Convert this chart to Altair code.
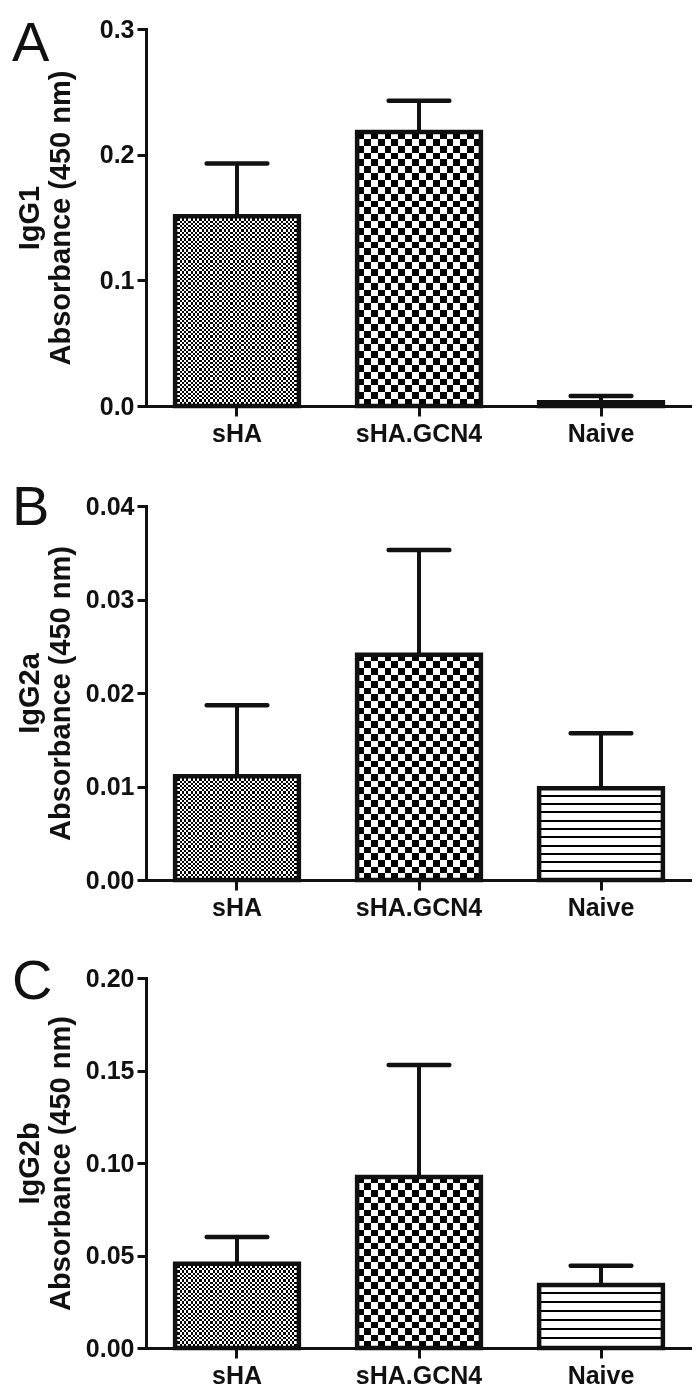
import altair as alt
import pandas as pd

groups = ["sHA", "sHA.GCN4", "Naive"]

igg1_mean = [0.151, 0.218, 0.003]
igg1_err = [0.042, 0.025, 0.005]

igg2a_mean = [0.0111, 0.0241, 0.0098]
igg2a_err = [0.0076, 0.0112, 0.0059]

igg2b_mean = [0.0455, 0.0925, 0.034]
igg2b_err = [0.0145, 0.0605, 0.0105]

FONT = "Liberation Sans"
INK = "#111111"
P_INNER, P_OUTER = 0.32, 0.16
AXIS_X = 134
W = 546


def stripes(n, vertical, white_frac=0.5):
    n = max(1, int(n))
    stops = []
    for i in range(n):
        a = i / n
        b = (i + white_frac) / n
        c = (i + 1) / n
        stops += [
            {"offset": round(a, 5), "color": "white"},
            {"offset": round(b, 5), "color": "white"},
            {"offset": round(b, 5), "color": "black"},
            {"offset": round(c, 5), "color": "black"},
        ]
    g = {"gradient": "linear", "stops": stops, "x1": 0, "y1": 0}
    if vertical:
        g.update({"x2": 0, "y2": 1})
    else:
        g.update({"x2": 1, "y2": 0})
    return g


def panel(letter, sub, means, errs, ymax, step, fmt, H, title_pad, letter_dy):
    df = pd.DataFrame({"group": groups, "mean": means, "err": errs})
    df["top"] = df["mean"] + df["err"]

    xenc = alt.X(
        "group:N",
        sort=groups,
        scale=alt.Scale(domain=groups, paddingInner=P_INNER, paddingOuter=P_OUTER),
        axis=alt.Axis(
            title=None, labelAngle=0, labelFont=FONT, labelFontSize=25,
            labelFontWeight="bold", labelColor=INK, labelPadding=5,
            tickSize=10, tickWidth=3, tickColor=INK, domainWidth=3,
            domainColor=INK, domainCap="square", grid=False,
        ),
    )
    vals = [round(i * step, 4) for i in range(int(round(ymax / step)) + 1)]
    yaxis = alt.Axis(
        title=[sub, "Absorbance (450 nm)"], titleFont=FONT, titleFontSize=29,
        titleFontWeight="bold", titleColor=INK, titleLineHeight=31,
        titlePadding=title_pad, values=vals, format=fmt, labelFont=FONT,
        labelFontSize=25, labelFontWeight="bold", labelColor=INK,
        labelPadding=3, labelFlush=False, labelOverlap=False,
        tickSize=9, tickWidth=3, tickColor=INK, domainWidth=3,
        domainColor=INK, domainCap="square", grid=False,
    )
    yscale = alt.Scale(domain=[0, ymax], nice=False, zero=True)
    ymean = alt.Y("mean:Q", scale=yscale, axis=yaxis)

    base = alt.Chart(df).encode(x=xenc, y=ymean)

    bw = W / 3.0 * (1 - P_INNER)
    layers = []
    pat = {"sHA": 4.4, "sHA.GCN4": 13.4}
    for g, m in zip(groups, means):
        bh = m / ymax * H
        f = base.transform_filter(alt.datum.group == g)
        if g in pat:
            per = pat[g]
            rows = stripes(round(bh / per), True)
            cols = stripes(round(bw / per), False)
            layers.append(f.mark_bar(fill=rows, strokeWidth=0))
            layers.append(f.mark_bar(fill=cols, strokeWidth=0, blend="difference"))
        else:
            lines = stripes(round(bh / 8.5), True, white_frac=0.76)
            layers.append(f.mark_bar(fill=lines, strokeWidth=0))

    outline = base.mark_bar(fillOpacity=0, stroke=INK, strokeWidth=4.5)
    err_rule = base.mark_rule(color=INK, strokeWidth=4).encode(y2="top:Q")
    cap = alt.Chart(df).mark_tick(
        color=INK, thickness=4.5, size=65, opacity=1, cornerRadius=2
    ).encode(x=xenc, y=alt.Y("top:Q", scale=yscale, axis=yaxis))
    lab = alt.Chart(pd.DataFrame({"k": [0]})).mark_text(
        text=letter, font=FONT, fontSize=56, align="left", baseline="top", color=INK
    ).encode(x=alt.value(-AXIS_X), y=alt.value(letter_dy))

    return alt.layer(*layers, err_rule, outline, cap, lab).properties(width=W, height=H)


pA = panel("A", "IgG1", igg1_mean, igg1_err, 0.3, 0.1, ".1f", 377, 24, -12)
pB = panel("B", "IgG2a", igg2a_mean, igg2a_err, 0.04, 0.01, ".2f", 374, 10, -25)
pC = panel("C", "IgG2b", igg2b_mean, igg2b_err, 0.20, 0.05, ".2f", 370, 10, -23)

chart = alt.concat(pA, pB, pC, columns=1, spacing=34).properties(
    padding={"left": 4, "top": 8, "right": 0, "bottom": 0}, background="white"
).configure_view(strokeWidth=0)

chart.save("out.html", embed_options={"renderer": "svg", "actions": False})
